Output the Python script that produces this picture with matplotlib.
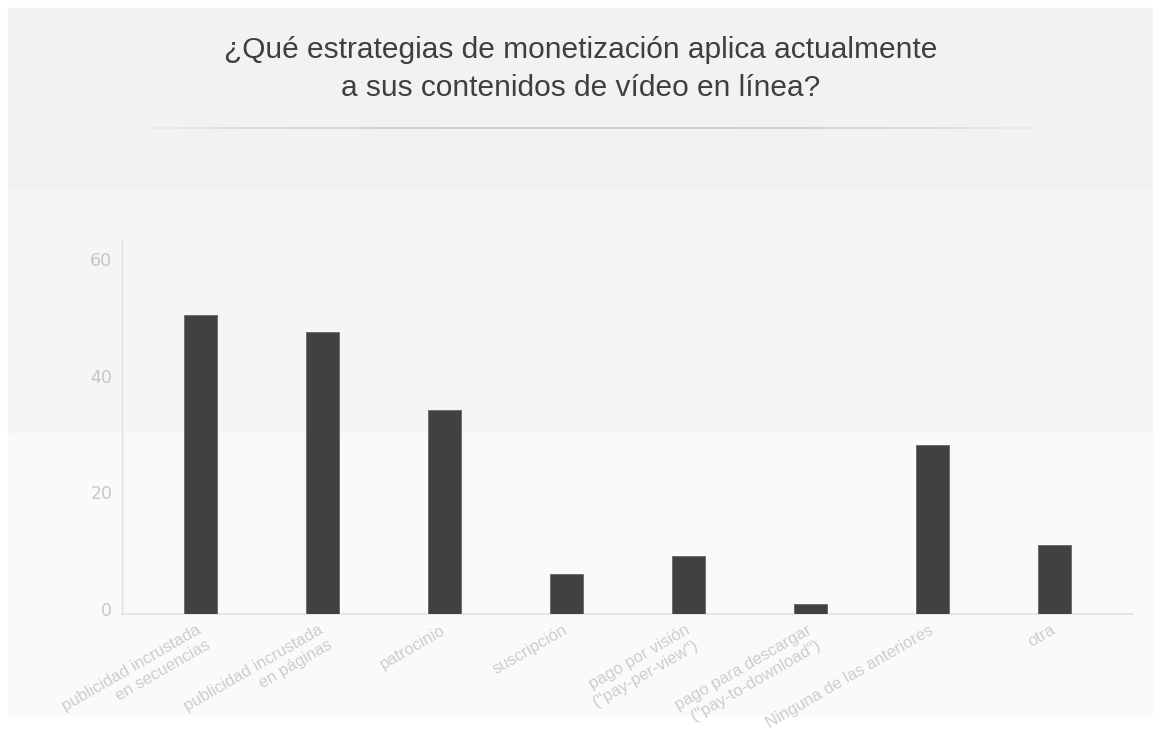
import numpy as np
import matplotlib.pyplot as plt
from matplotlib.patches import Rectangle
from matplotlib.collections import LineCollection
from matplotlib.transforms import ScaledTranslation

# respuestas por estrategia de monetizacion
categorias = ["publicidad incrustada\nen secuencias",
              "publicidad incrustada\nen páginas",
              "patrocinio",
              "suscripción",
              "pago por visión\n(\"pay-per-view\")",
              "pago para descargar\n(\"pay-to-download\")",
              "Ninguna de las anteriores",
              "otra"]
valores = [51.3, 48.3, 34.9, 6.8, 10.0, 1.7, 29.0, 11.9]
yticks = [0, 20, 40, 60]

W, H = 1153, 733
fig = plt.figure(figsize=(W / 100, H / 100), dpi=100)
fig.patch.set_facecolor("white")

# franjas de fondo (px -> fraccion de figura)
def banda(y0, y1, color):
    fig.patches.append(Rectangle((8 / W, 1 - y1 / H), 1 - 8 / W, (y1 - y0) / H,
                                 transform=fig.transFigure, color=color, zorder=-5))

banda(8, 190, "#f2f2f2")
banda(190, 433, "#f5f5f5")
banda(433, 715, "#fafafa")

# titulo
fig.text(0.504, 1 - 50 / H, "¿Qué estrategias de monetización aplica actualmente",
         ha="center", va="center", fontsize=21.5, color="#3f3f3f",
         family="Liberation Sans")
fig.text(0.504, 1 - 88 / H, "a sus contenidos de vídeo en línea?",
         ha="center", va="center", fontsize=21.5, color="#3f3f3f",
         family="Liberation Sans")

# linea separadora que se desvanece en los extremos
xs = np.linspace(118 / W, 1064 / W, 60)
segs = [[(xs[i], 1 - 127.5 / H), (xs[i + 1], 1 - 127.5 / H)] for i in range(len(xs) - 1)]
t = np.linspace(-1, 1, len(segs))
alphas = 1 - np.abs(t) ** 3
lc = LineCollection(segs, colors=[(0.80, 0.80, 0.80, a) for a in alphas],
                    linewidths=1.3, transform=fig.transFigure, zorder=-4)
fig.add_artist(lc)

ax = fig.add_axes([122 / W, 1 - 614 / H, (1133 - 122) / W, (614 - 240) / H])
ax.set_zorder(2)
ax.set_facecolor("none")
x = np.arange(len(categorias))
ax.bar(x, valores, width=0.275, color="#414141", edgecolor="#6e6e6e",
       linewidth=0.7, zorder=3)
ax.set_xlim(-0.643, len(categorias) - 1 + 0.643)
ax.set_ylim(0, 64.1)
ax.set_yticks(yticks)
ax.set_yticklabels([str(v) for v in yticks], color="#c6c6c6", fontsize=12.5,
                   family="DejaVu Sans")
ax.tick_params(axis="y", length=0, pad=7)
ax.tick_params(axis="x", length=0, pad=6)
# etiquetas del eje y un poco por encima de la marca
for lab in ax.get_yticklabels():
    lab.set_transform(lab.get_transform() + ScaledTranslation(0, 0.05, fig.dpi_scale_trans))
ax.set_xticks(x)
ax.set_xticklabels(categorias, rotation=30, ha="right", va="top",
                   rotation_mode="anchor", color="#cdcdcd", fontsize=12,
                   family="Liberation Sans", multialignment="right",
                   linespacing=1.2)
for lab in ax.get_xticklabels():
    lab.set_transform(lab.get_transform() + ScaledTranslation(-0.04, 0, fig.dpi_scale_trans))
for s in ["top", "right"]:
    ax.spines[s].set_visible(False)
ax.spines["left"].set_color("#dddddd")
ax.spines["bottom"].set_color("#e2e2e2")
ax.spines["left"].set_linewidth(1.0)
ax.spines["bottom"].set_linewidth(1.2)

fig.savefig("out.png", dpi=100)
